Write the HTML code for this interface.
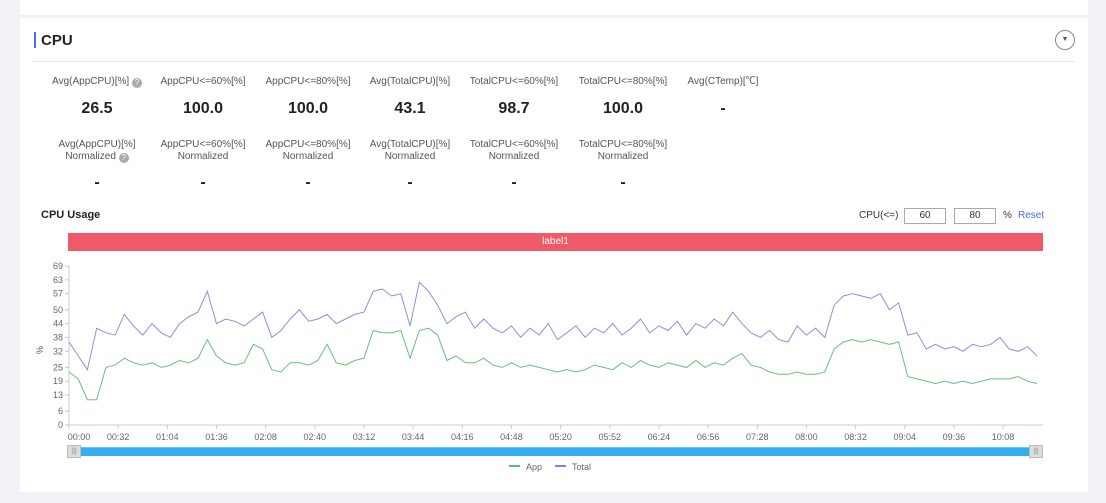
<!DOCTYPE html>
<html><head><meta charset="utf-8"><style>
*{box-sizing:border-box;margin:0;padding:0}
body{width:1106px;height:503px;background:#f1f2f8;font-family:"Liberation Sans","Noto Sans CJK SC",sans-serif;position:relative;overflow:hidden;color:#333}
.card{position:absolute;background:#fff;left:20px;width:1068px}
.abs{position:absolute}
.lbl{position:absolute;font-size:10px;color:#555;text-align:center;width:120px;line-height:12px}
.val{position:absolute;font-size:16px;font-weight:bold;color:#222;text-align:center;width:120px}
.q{display:inline-block;width:10px;height:10px;border-radius:50%;background:#aaa;color:#fff;font-size:8px;line-height:10px;text-align:center;vertical-align:-1px}
</style></head><body>
<div class="card" style="top:0;height:15px"></div>
<div class="card" style="top:18px;height:474px"></div>
<div class="abs" style="left:34px;top:32px;width:2px;height:16px;background:#4a6cf7"></div>
<div class="abs" style="left:41px;top:32px;font-size:15px;font-weight:bold;color:#222">CPU</div>
<div class="abs" style="left:1055px;top:30px;width:20px;height:20px;border:1px solid #888;border-radius:50%;font-size:7px;text-align:center;line-height:18px;color:#555">▼</div>
<div class="abs" style="left:33px;top:61px;width:1042px;height:1px;background:#e3e4ea"></div>

<div class="lbl" style="left:37px;top:76px">Avg(AppCPU)[%] <span class="q">?</span></div>
<div class="lbl" style="left:143px;top:76px">AppCPU&lt;=60%[%]</div>
<div class="lbl" style="left:248px;top:76px">AppCPU&lt;=80%[%]</div>
<div class="lbl" style="left:350px;top:76px">Avg(TotalCPU)[%]</div>
<div class="lbl" style="left:454px;top:76px">TotalCPU&lt;=60%[%]</div>
<div class="lbl" style="left:563px;top:76px">TotalCPU&lt;=80%[%]</div>
<div class="lbl" style="left:663px;top:76px">Avg(CTemp)[℃]</div>
<div class="val" style="left:37px;top:100px">26.5</div>
<div class="val" style="left:143px;top:100px">100.0</div>
<div class="val" style="left:248px;top:100px">100.0</div>
<div class="val" style="left:350px;top:100px">43.1</div>
<div class="val" style="left:454px;top:100px">98.7</div>
<div class="val" style="left:563px;top:100px">100.0</div>
<div class="val" style="left:663px;top:100px">-</div>

<div class="lbl" style="left:37px;top:139px">Avg(AppCPU)[%]<br>Normalized <span class="q">?</span></div>
<div class="lbl" style="left:143px;top:139px">AppCPU&lt;=60%[%]<br>Normalized</div>
<div class="lbl" style="left:248px;top:139px">AppCPU&lt;=80%[%]<br>Normalized</div>
<div class="lbl" style="left:350px;top:139px">Avg(TotalCPU)[%]<br>Normalized</div>
<div class="lbl" style="left:454px;top:139px">TotalCPU&lt;=60%[%]<br>Normalized</div>
<div class="lbl" style="left:563px;top:139px">TotalCPU&lt;=80%[%]<br>Normalized</div>
<div class="val" style="left:37px;top:174px">-</div>
<div class="val" style="left:143px;top:174px">-</div>
<div class="val" style="left:248px;top:174px">-</div>
<div class="val" style="left:350px;top:174px">-</div>
<div class="val" style="left:454px;top:174px">-</div>
<div class="val" style="left:563px;top:174px">-</div>

<div class="abs" style="left:41px;top:209px;font-size:11px;font-weight:bold;color:#222">CPU Usage</div>
<div class="abs" style="left:859px;top:210px;font-size:10px;color:#333">CPU(&lt;=)</div>
<div class="abs" style="left:904px;top:208px;width:42px;height:16px;border:1px solid #aaa;font-size:10px;text-align:center;line-height:14px">60</div>
<div class="abs" style="left:954px;top:208px;width:42px;height:16px;border:1px solid #aaa;font-size:10px;text-align:center;line-height:14px">80</div>
<div class="abs" style="left:1003px;top:210px;font-size:10px;color:#333">%</div>
<div class="abs" style="left:1018px;top:210px;font-size:10px;color:#4a6cf7">Reset</div>
<div class="abs" style="left:68px;top:233px;width:975px;height:18px;background:#ee5a67;color:#fff;font-size:10px;text-align:center;line-height:18px">label1</div>

<svg id="chart" class="abs" style="left:0;top:0" width="1106" height="503"></svg>

<div class="abs" style="left:70px;top:447px;width:972px;height:9px;background:#33aef0;border-top:1px solid #6cc6f6"></div>
<div class="abs" style="left:67px;top:445px;width:14px;height:13px;background:#ddd;border:1px solid #bbb;font-size:7px;text-align:center;line-height:11px;color:#888">|||</div>
<div class="abs" style="left:1029px;top:445px;width:14px;height:13px;background:#ddd;border:1px solid #bbb;font-size:7px;text-align:center;line-height:11px;color:#888">|||</div>

<div class="abs" style="left:509px;top:462px;font-size:9px;color:#666"><span style="display:inline-block;width:11px;height:2px;background:#5cba6c;vertical-align:3px;margin-right:6px"></span>App</div>
<div class="abs" style="left:555px;top:462px;font-size:9px;color:#666"><span style="display:inline-block;width:11px;height:2px;background:#7d83dc;vertical-align:3px;margin-right:6px"></span>Total</div>

<script>
const yTicks=[0,6,13,19,25,32,38,44,50,57,63,69];
const xTickLabels=["00:00","00:32","01:04","01:36","02:08","02:40","03:12","03:44","04:16","04:48","05:20","05:52","06:24","06:56","07:28","08:00","08:32","09:04","09:36","10:08"];
const xTickMinutes=[0,32,64,96,128,160,192,224,256,288,320,352,384,416,448,480,512,544,576,608];
const sampleStepMin=6;
const totalSeries=[36,30,24,42,40,39,48,43,39,44,40,38,44,47,49,58,44,46,45,43,46,49,38,41,46,50,45,46,48,44,46,48,49,58,59,56,57,43,62,58,52,44,47,49,42,46,42,40,43,38,42,39,44,37,40,43,38,42,40,44,39,42,46,40,43,41,45,39,44,42,46,43,49,44,40,38,41,37,36,43,39,42,38,52,56,57,56,55,57,50,53,39,40,33,35,33,34,32,35,34,35,38,33,32,34,30];
const appSeries=[23,20,11,11,25,26,29,27,26,27,25,26,28,27,29,37,30,27,26,27,35,33,24,23,27,27,26,28,35,27,26,28,29,41,40,40,41,29,41,42,39,28,30,27,27,29,26,25,27,25,26,25,24,23,24,23,24,26,25,24,27,25,28,26,25,27,26,25,28,25,27,26,29,31,26,25,23,22,22,23,22,22,23,33,36,37,36,37,36,35,36,21,20,19,18,19,18,19,18,19,20,20,20,21,19,18];

const svg=document.getElementById('chart');
const NS='http://www.w3.org/2000/svg';
const X0=69,X1=1043,Y0=425,Y1=266,maxMin=634;
const xs=m=>X0+(X1-X0)*m/maxMin;
const ys=v=>Y0-(Y0-Y1)*v/69;
function mk(tag,attrs){const e=document.createElementNS(NS,tag);for(const k in attrs)e.setAttribute(k,attrs[k]);svg.appendChild(e);return e;}
let ax=mk('line',{x1:X0,y1:Y1,x2:X0,y2:Y0,stroke:'#ccc'});


let bx=mk('line',{x1:X0,y1:Y0,x2:X1,y2:Y0,stroke:'#ccc'});


yTicks.forEach(v=>{
  mk('line',{x1:X0-4,x2:X0,y1:ys(v),y2:ys(v),stroke:'#ccc'});
  const t=mk('text',{x:X0-6,y:ys(v)+3,'text-anchor':'end','font-size':9,fill:'#666','font-family':'Liberation Sans'});
  t.textContent=v;
  
  
});
xTickMinutes.forEach((m,i)=>{
  mk('line',{x1:xs(m),x2:xs(m),y1:Y0,y2:Y0+4,stroke:'#ccc'});
  const t=mk('text',{x:xs(m)+(i==0?10:0),y:Y0+15,'text-anchor':'middle','font-size':9,fill:'#666','font-family':'Liberation Sans'});
  t.textContent=xTickLabels[i];
  
  
});
const yt=mk('text',{x:43,y:350,'font-size':9,fill:'#555',transform:'rotate(-90 43 350)','text-anchor':'middle','font-family':'Liberation Sans'});
yt.textContent='%';


function line(arr,color,name){
  const d=arr.map((v,i)=>(i?'L':'M')+xs(Math.min(i*sampleStepMin,maxMin)).toFixed(1)+' '+ys(v).toFixed(1)).join(' ');
  const p=mk('path',{d:d,fill:'none',stroke:color,'stroke-width':1});
  
  
}
line(totalSeries,'#8a8fe0','total-line');
line(appSeries,'#66c078','app-line');
</script>
</body></html>
